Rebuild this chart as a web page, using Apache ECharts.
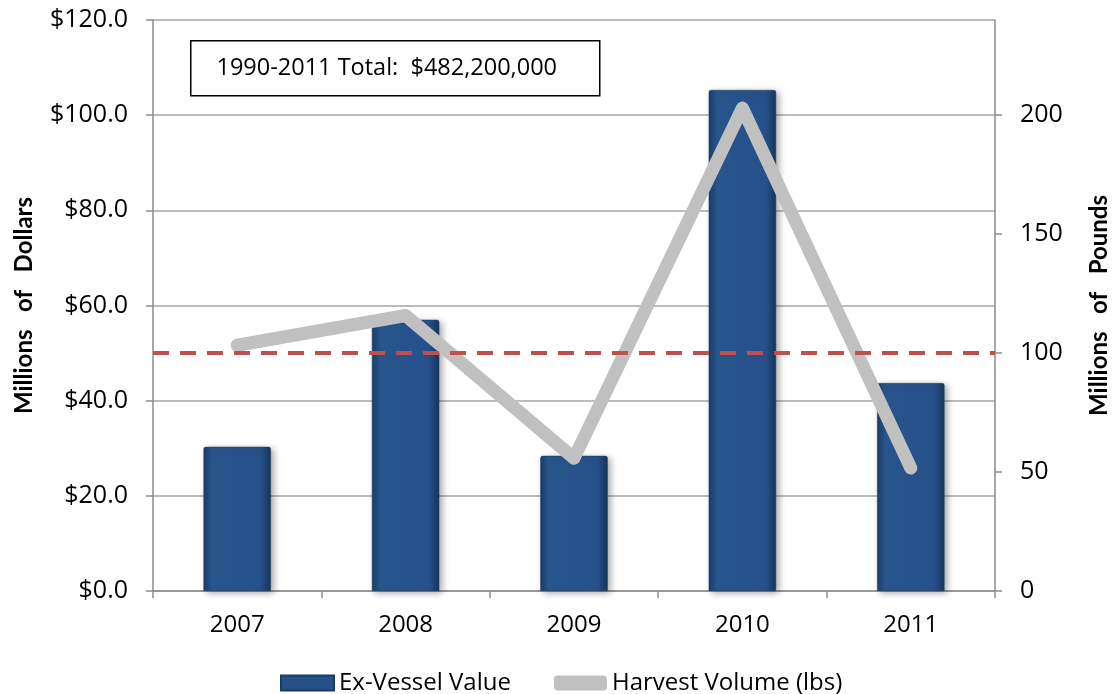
<!DOCTYPE html>
<html>
<head>
<meta charset="utf-8">
<script src="https://cdn.jsdelivr.net/npm/echarts@6/dist/echarts.min.js"></script>
<style>
  html, body { margin: 0; padding: 0; background: #fff; }
  #chart { width: 1112px; height: 694px; }
</style>
</head>
<body>
<div id="chart"></div>
<script>
const years = ['2007', '2008', '2009', '2010', '2011']
const exVesselValue = [30.3, 57.0, 28.4, 105.3, 43.7]
const harvestVolume = [103.3, 115.8, 55.8, 203, 51.7]
const referenceVolume = 100
const totalLabel = '1990-2011 Total:  $482,200,000'

const font = '"Open Sans", Lato, sans-serif'
const boldFont = 'Lato, "Open Sans", sans-serif'
const axisGray = '#8c8c8c'

const chart = echarts.init(document.getElementById('chart'))

const barColor = new echarts.graphic.LinearGradient(0, 0, 1, 0, [
  { offset: 0, color: '#1c3d68' },
  { offset: 0.12, color: '#28558c' },
  { offset: 0.85, color: '#26508a' },
  { offset: 1, color: '#17355c' }
])

const option = {
  animation: false,
  textStyle: { fontFamily: font, color: '#000' },
  grid: { left: 153, right: 117, top: 20, bottom: 103, outerBoundsMode: 'none', containLabel: false },
  legend: {
    top: 666,
    left: 275,
    itemGap: 43,
    textStyle: { fontSize: 24, fontFamily: font, color: '#000' },
    data: [
      { name: 'Ex-Vessel Value', icon: 'rect', itemStyle: { color: '#25508a' } },
      { name: 'Harvest Volume (lbs)', icon: 'roundRect' }
    ],
    itemWidth: 53,
    itemHeight: 15
  },
  xAxis: {
    type: 'category',
    data: years,
    axisLine: { lineStyle: { color: axisGray, width: 1.5 } },
    axisTick: { show: true, length: 7, lineStyle: { color: axisGray, width: 1.5 } },
    axisLabel: { fontSize: 24, color: '#000', margin: 22 }
  },
  yAxis: [
    {
      type: 'value',
      min: 0,
      max: 120,
      interval: 20,
      name: 'Millions   of   Dollars',
      nameLocation: 'middle',
      nameGap: 117,
      nameTextStyle: { fontSize: 24, fontWeight: 'bold', fontFamily: boldFont, color: '#000' },
      axisLine: { show: true, lineStyle: { color: axisGray, width: 1.5 } },
      axisTick: { show: true, length: 7, lineStyle: { color: axisGray, width: 1.5 } },
      axisLabel: {
        fontSize: 25,
        color: '#000',
        margin: 25,
        formatter: v => '$' + v.toFixed(1)
      },
      splitLine: { lineStyle: { color: '#a6a6a6', width: 1.5 } }
    },
    {
      type: 'value',
      min: 0,
      max: 240,
      interval: 50,
      position: 'right',
      name: 'Millions   of   Pounds',
      nameLocation: 'middle',
      nameGap: 92,
      nameRotate: 90,
      nameTextStyle: { fontSize: 24, fontWeight: 'bold', fontFamily: boldFont, color: '#000' },
      axisLine: { show: true, lineStyle: { color: axisGray, width: 1.5 } },
      axisTick: { show: true, length: 7, lineStyle: { color: axisGray, width: 1.5 } },
      axisLabel: { fontSize: 25, color: '#000', margin: 25, showMaxLabel: false },
      splitLine: { show: false }
    }
  ],
  series: [
    {
      name: 'Ex-Vessel Value',
      type: 'bar',
      yAxisIndex: 0,
      data: exVesselValue,
      barWidth: '40%',
      itemStyle: {
        color: barColor,
        borderColor: '#1a3a62',
        borderWidth: 0.5,
        borderRadius: [2, 2, 0, 0],
        shadowBlur: 7,
        shadowColor: 'rgba(0,0,0,0.35)',
        shadowOffsetX: 3,
        shadowOffsetY: 2
      }
    },
    {
      name: 'Harvest Volume (lbs)',
      type: 'line',
      yAxisIndex: 1,
      data: harvestVolume,
      showSymbol: false,
      symbol: 'none',
      itemStyle: { color: '#c0c0c0' },
      lineStyle: { color: '#c0c0c0', width: 13, cap: 'round', join: 'round' },
      z: 3,
      markLine: {
        silent: true,
        symbol: 'none',
        label: { show: false },
        lineStyle: { color: '#c0504d', width: 4, type: [16, 11] },
        data: [{ yAxis: referenceVolume }]
      }
    }
  ],
  graphic: [
    {
      type: 'group',
      left: 190,
      top: 40,
      children: [
        {
          type: 'rect',
          shape: { x: 0, y: 0, width: 409, height: 55 },
          style: { fill: '#fff', stroke: '#000', lineWidth: 1.5 }
        },
        {
          type: 'text',
          x: 196,
          y: 28,
          style: {
            text: totalLabel,
            font: '23.5px ' + font,
            fill: '#000',
            align: 'center',
            verticalAlign: 'middle'
          }
        }
      ]
    }
  ]
}

chart.setOption(option)
</script>
</body>
</html>
